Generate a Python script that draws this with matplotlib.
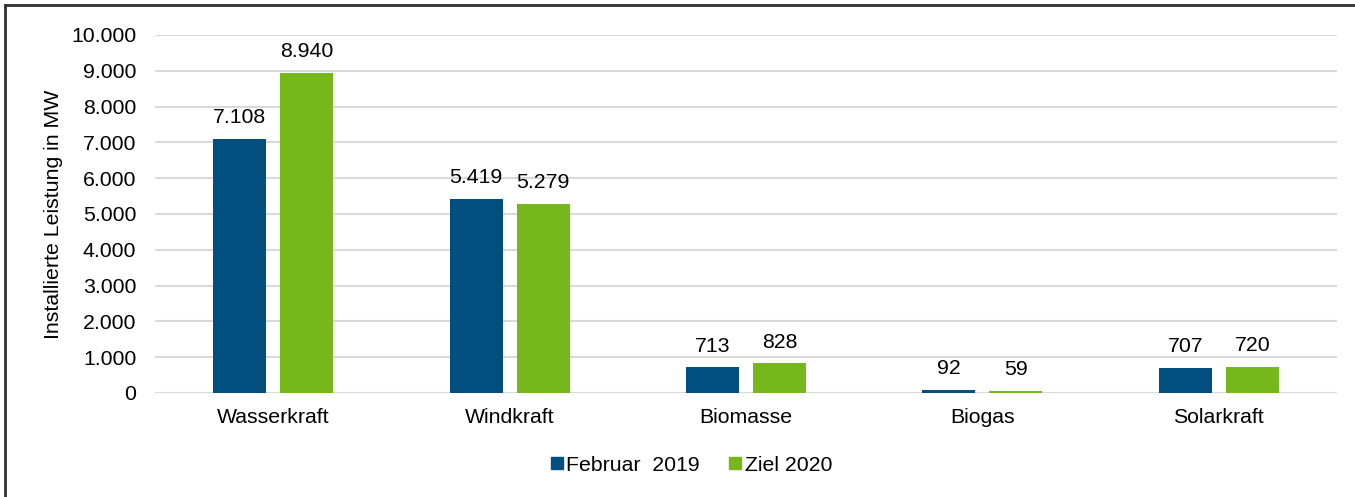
import matplotlib.pyplot as plt
import numpy as np
from matplotlib.lines import Line2D

plt.rcParams['font.family'] = ['Liberation Sans', 'DejaVu Sans']

categories = ["Wasserkraft", "Windkraft", "Biomasse", "Biogas", "Solarkraft"]
feb_2019 = [7108, 5419, 713, 92, 707]
ziel_2020 = [8940, 5279, 828, 59, 720]
series_names = ["Februar  2019", "Ziel 2020"]
yticks = [0, 1000, 2000, 3000, 4000, 5000, 6000, 7000, 8000, 9000, 10000]

blue = "#004f7f"
green = "#76b81b"
fs = 15.3

def fmt(v):
    return "{:,}".format(v).replace(",", ".")

fig = plt.figure(figsize=(13.55, 4.97), dpi=100)
ax = fig.add_axes([0.1144, 0.2093, 0.8723, 0.7203])

x = np.arange(len(categories))
w = 0.224
off = 0.142
b1 = ax.bar(x - off, feb_2019, w, color=blue, label=series_names[0], zorder=3)
b2 = ax.bar(x + off, ziel_2020, w, color=green, label=series_names[1], zorder=3)

for bars, vals in [(b1, feb_2019), (b2, ziel_2020)]:
    for r, v in zip(bars, vals):
        ax.text(r.get_x() + r.get_width() / 2, v + 330, fmt(v),
                ha="center", va="bottom", fontsize=fs)

ax.set_xlim(-0.5, len(categories) - 0.5)
ax.set_ylim(0, 10000)
ax.set_yticks(yticks)
ax.set_yticklabels([fmt(t) for t in yticks], fontsize=fs)
ax.set_xticks(x)
ax.set_xticklabels(categories, fontsize=fs)
ax.tick_params(length=0)
ax.tick_params(axis="y", pad=13.5)
ax.tick_params(axis="x", pad=11)
ax.grid(axis="y", color="#d9d9d9", linewidth=1.5, zorder=0)
for s in ax.spines.values():
    s.set_visible(False)
ax.set_ylabel("Installierte Leistung in MW", fontsize=fs)
ax.yaxis.set_label_coords(-0.078, 0.5)

handles = [Line2D([], [], marker="s", linestyle="none", color=blue, markersize=8),
           Line2D([], [], marker="s", linestyle="none", color=green, markersize=8)]
fig.legend(handles, series_names, loc="center", bbox_to_anchor=(0.509, 0.064),
           ncol=2, frameon=False, fontsize=fs, handletextpad=0.0,
           columnspacing=1.2, handlelength=0.9)

fig.add_artist(Line2D([5 / 1355, 5 / 1355], [0, 1 - 5 / 497], transform=fig.transFigure,
                      color="#333333", linewidth=2))
fig.add_artist(Line2D([5 / 1355, 1], [1 - 5 / 497, 1 - 5 / 497], transform=fig.transFigure,
                      color="#333333", linewidth=2))

fig.savefig("out.png", dpi=100)
